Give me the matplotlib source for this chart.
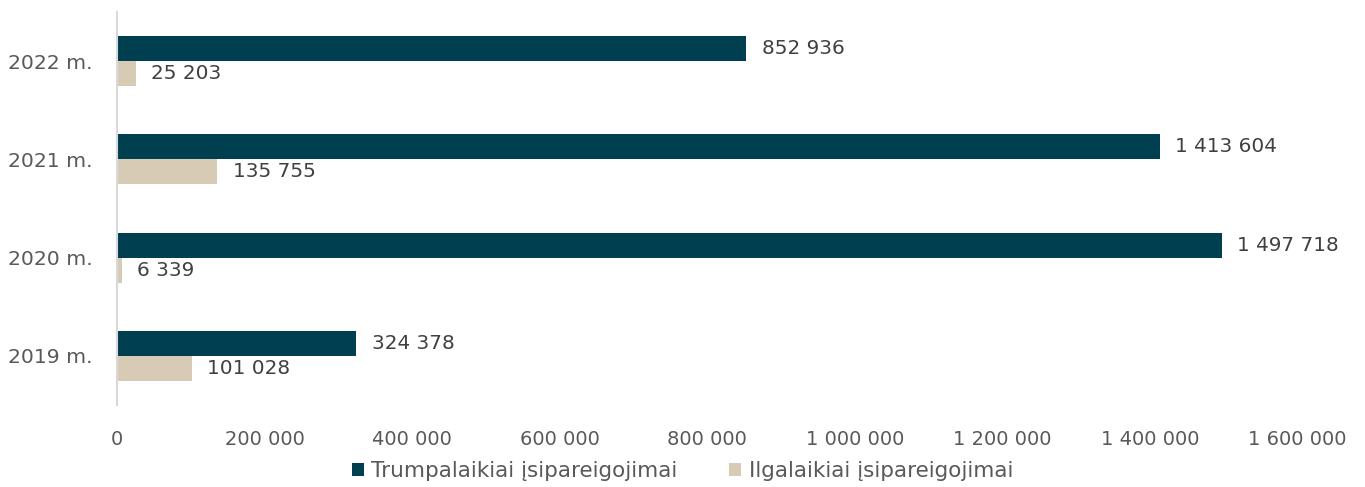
import numpy as np
import matplotlib.pyplot as plt

years = ["2019 m.", "2020 m.", "2021 m.", "2022 m."]
short_term = [324378, 1497718, 1413604, 852936]
long_term = [101028, 6339, 135755, 25203]
x_ticks = [0, 200000, 400000, 600000, 800000, 1000000, 1200000, 1400000, 1600000]

DARK = "#003f50"
LIGHT = "#d8cbb6"
TEXT = "#595959"


def fmt(v):
    return f"{v:,}".replace(",", " ")


plt.rcParams["font.family"] = "DejaVu Sans"

fig = plt.figure(figsize=(13.65, 4.87), dpi=100)
ax = fig.add_axes([0.0857, 0.1684, 0.8648, 0.807])

y = np.arange(len(years))
h = 0.255
ax.barh(y + h / 2, short_term, height=h, color=DARK, label="Trumpalaikiai įsipareigojimai")
ax.barh(y - h / 2, long_term, height=h, color=LIGHT, label="Ilgalaikiai įsipareigojimai")

for yi, v in zip(y, short_term):
    ax.text(v + 21000, yi + h / 2, fmt(v), va="center", ha="left", fontsize=14.4, color="#404040")
for yi, v in zip(y, long_term):
    ax.text(v + 21000, yi - h / 2, fmt(v), va="center", ha="left", fontsize=14.4, color="#404040")

ax.set_xlim(0, 1600000)
ax.set_ylim(-0.5, 3.5)
ax.set_yticks(y)
ax.set_yticklabels(years, fontsize=14.7, color=TEXT)
ax.set_xticks(x_ticks)
ax.set_xticklabels([fmt(t) for t in x_ticks], fontsize=14, color=TEXT)
ax.tick_params(axis="both", length=0)
ax.tick_params(axis="x", pad=18)
ax.tick_params(axis="y", pad=17.5)

for s in ["top", "right", "bottom"]:
    ax.spines[s].set_visible(False)
ax.spines["left"].set_color("#d9d9d9")
ax.spines["left"].set_linewidth(1.5)

fig.legend(loc="lower center", bbox_to_anchor=(0.5, -0.028), ncol=2, frameon=False,
           fontsize=15.5, labelcolor=TEXT, handlelength=0.55, handleheight=0.55,
           handletextpad=0.35, columnspacing=2.4)

fig.savefig("out.png", dpi=100)
